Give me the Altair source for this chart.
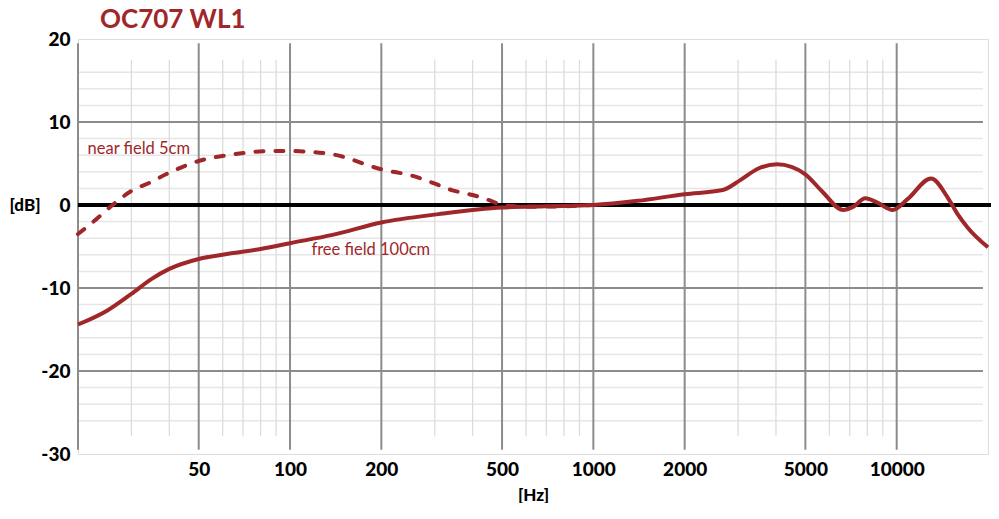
import altair as alt
import pandas as pd

# ---- data ----
free_freq = [20, 25, 30, 35, 40, 50, 62, 80, 100, 138, 200, 309, 500, 700, 1000, 1400, 2000,
             2670, 3050, 3500, 4030, 4500, 5000, 5690, 6660, 7200, 7880, 8630, 9700, 10860,
             12980, 14730, 15880, 17120, 20000]
free_db = [-14.4, -12.7, -10.7, -8.9, -7.7, -6.5, -5.9, -5.3, -4.6, -3.6, -2.1, -1.1, -0.3, -0.15,
           0.0, 0.5, 1.3, 1.8, 3.0, 4.4, 4.9, 4.6, 3.7, 1.6, -0.6, -0.2, 0.8, 0.3, -0.6, 0.7,
           3.2, 0.9, -1.1, -2.7, -5.1]

near_freq = [20, 23, 26, 30, 35, 39, 50, 65, 85, 100, 138, 200, 254, 294, 341, 400, 460, 500,
             600, 800, 1000]
near_db = [-3.5, -1.7, 0.0, 1.7, 2.8, 3.7, 5.3, 6.1, 6.5, 6.5, 6.1, 4.3, 3.5, 2.7, 1.8, 1.2,
           0.5, 0.0, -0.2, -0.15, 0.0]

x_tick_values = [50, 100, 200, 500, 1000, 2000, 5000, 10000]
y_tick_values = [-30, -20, -10, 0, 10, 20]

major_v = [20, 50, 100, 200, 500, 1000, 2000, 5000, 10000]
minor_v = [30, 40, 60, 70, 80, 90, 300, 400, 600, 700, 800, 900, 3000, 4000, 6000, 7000, 8000, 9000]
major_h = [10, -10, -20]
minor_h = [16, 14, 12, 8, 6, 4, 2, -2, -4, -6, -8, -12, -14, -16, -18, -22, -24, -26]

title_text = "OC707 WL1"
label_text = ["near field 5cm", "free field 100cm"]
label_freq = [21.5, 117.6]
label_db = [6.2, -6.0]

RED = "#9f272a"
FONT = "Lato"
W, H = 910, 415

xs = alt.Scale(type="log", domain=[20, 20000], nice=False)
ys = alt.Scale(domain=[-30, 20], nice=False)

free_df = pd.DataFrame({"f": free_freq, "db": free_db})
near_df = pd.DataFrame({"f": near_freq, "db": near_db})

x_axis = alt.Axis(values=x_tick_values, labelExpr="'' + datum.value", domain=False, ticks=False,
                  grid=False, tickSize=0,
                  labelFont=FONT, labelFontSize=19, labelFontWeight=900, labelColor="#000",
                  labelPadding=6, labelFlush=False, labelOverlap=False,
                  title="[Hz]", titleFont=FONT, titleFontSize=17, titleFontWeight=900,
                  titleColor="#000", titleY=41, titleBaseline="middle")
y_axis = alt.Axis(values=y_tick_values, labelExpr="'' + datum.value", domain=False, ticks=False,
                  grid=False, tickSize=0,
                  labelFont=FONT, labelFontSize=19, labelFontWeight=900, labelColor="#000",
                  labelPadding=8, labelFlush=False, labelOverlap=False,
                  title="[dB]", titleFont=FONT, titleFontSize=17, titleFontWeight=900,
                  titleColor="#000", titleAngle=0, titleX=-69, titleY=166,
                  titleAlign="left", titleBaseline="middle")

# grid layers
hminor = alt.Chart(pd.DataFrame({"db": minor_h})).mark_rule(color="#e6e6e6", strokeWidth=1.5).encode(
    y=alt.Y("db:Q", scale=ys, axis=y_axis), x=alt.value(0), x2=alt.value(905))
vminor = alt.Chart(pd.DataFrame({"f": minor_v, "y1": [17.5] * len(minor_v), "y2": [-27.8] * len(minor_v)})).mark_rule(
    color="#dcdcdc", strokeWidth=1.3).encode(
    x=alt.X("f:Q", scale=xs, axis=x_axis), y=alt.Y("y1:Q", scale=ys), y2="y2:Q")
vmajor = alt.Chart(pd.DataFrame({"f": major_v, "y1": [19.5] * len(major_v), "y2": [-29.5] * len(major_v)})).mark_rule(
    color="#8c8c8c", strokeWidth=2).encode(
    x=alt.X("f:Q", scale=xs), y=alt.Y("y1:Q", scale=ys), y2="y2:Q")
hmajor = alt.Chart(pd.DataFrame({"db": major_h})).mark_rule(color="#8c8c8c", strokeWidth=2.2).encode(
    y=alt.Y("db:Q", scale=ys), x=alt.value(0), x2=alt.value(905))
zero = alt.Chart(pd.DataFrame({"db": [0]})).mark_rule(color="#000", strokeWidth=4).encode(
    y=alt.Y("db:Q", scale=ys), x=alt.value(0), x2=alt.value(913))

near = alt.Chart(near_df).mark_line(color=RED, strokeWidth=4, strokeDash=[8, 12], strokeCap="round",
                                    interpolate="monotone").encode(
    x=alt.X("f:Q", scale=xs), y=alt.Y("db:Q", scale=ys), order="f:Q")
free = alt.Chart(free_df).mark_line(color=RED, strokeWidth=4, interpolate="monotone").encode(
    x=alt.X("f:Q", scale=xs), y=alt.Y("db:Q", scale=ys), order="f:Q")

labels = alt.Chart(pd.DataFrame({"t": label_text, "f": label_freq, "db": label_db})).mark_text(
    align="left", baseline="alphabetic", font=FONT, fontSize=16.5, color=RED).encode(
    x=alt.X("f:Q", scale=xs), y=alt.Y("db:Q", scale=ys), text="t:N")

title = alt.Chart(pd.DataFrame({"t": [title_text]})).mark_text(
    align="left", baseline="alphabetic", font=FONT, fontSize=26, fontWeight="bold", color=RED).encode(
    x=alt.value(22), y=alt.value(-11), text="t:N")

chart = alt.layer(hminor, vminor, vmajor, hmajor, zero, near, free, labels, title).properties(
    width=W, height=H,
    autosize=alt.AutoSizeParams(type="none"),
    padding={"left": 70, "top": 31, "right": 3, "bottom": 49},
).configure_view(stroke=None).configure(background="white")

chart.save("out.html", embed_options={"renderer": "svg", "actions": False})
